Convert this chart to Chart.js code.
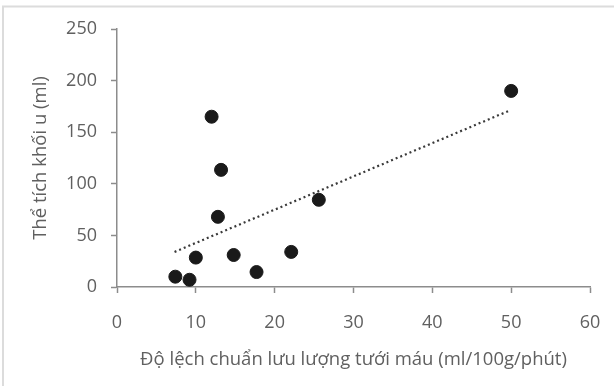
<!DOCTYPE html>
<html>
<head>
<meta charset="utf-8">
<script src="https://cdn.jsdelivr.net/npm/chart.js@4/dist/chart.umd.min.js"></script>
<style>
  html, body { margin: 0; padding: 0; background: #fff; }
  #wrap { position: relative; width: 614px; height: 386px; }
</style>
</head>
<body>
<div id="wrap"><canvas id="c" width="614" height="386"></canvas></div>
<script>
// Data
const xValues = [7.4, 9.2, 10.0, 12.0, 13.2, 12.8, 14.8, 17.7, 22.1, 25.6, 50.0];
const yValues = [10, 7, 28.5, 165, 113.5, 68, 31, 14.5, 34, 84.5, 190];
const trendX = [7.3, 49.8];
const trendY = [34, 171];
const xTitle = 'Độ lệch chuẩn lưu lượng tưới máu (ml/100g/phút)';
const yTitle = 'Thể tích khối u (ml)';

const points = xValues.map((x, i) => ({ x: x, y: yValues[i] }));
const trend = trendX.map((x, i) => ({ x: x, y: trendY[i] }));

const FONT = '"Open Sans", sans-serif';
const TXT = '#606060';
const AX = '#8c8c8c';

const frame = {
  id: 'frame',
  beforeDraw(chart) {
    const ctx = chart.ctx;
    ctx.save();
    ctx.fillStyle = '#fff';
    ctx.fillRect(0, 0, chart.width, chart.height);
    ctx.strokeStyle = '#dcdcdc';
    ctx.lineWidth = 2;
    ctx.beginPath();
    ctx.moveTo(3, chart.height);
    ctx.lineTo(3, 6.5);
    ctx.lineTo(chart.width, 6.5);
    ctx.stroke();
    ctx.restore();
  }
};

new Chart(document.getElementById('c'), {
  type: 'scatter',
  data: {
    datasets: [
      {
        data: points,
        backgroundColor: '#1a1a1a',
        borderColor: '#1a1a1a',
        pointRadius: 6.5,
        pointHoverRadius: 6.5,
        order: 1
      },
      {
        type: 'line',
        data: trend,
        borderColor: '#3a3a3a',
        borderWidth: 2.2,
        borderDash: [2, 3],
        pointRadius: 0,
        fill: false,
        order: 2
      }
    ]
  },
  options: {
    responsive: false,
    animation: false,
    devicePixelRatio: 1,
    layout: { padding: { left: 0, right: 24, top: 29, bottom: 0 } },
    plugins: { legend: { display: false }, tooltip: { enabled: false } },
    scales: {
      x: {
        type: 'linear',
        min: 0, max: 60,
        afterFit(scale) { scale.height = 99; scale.paddingRight = 0; scale.paddingLeft = 0; },
        ticks: { stepSize: 10, color: TXT, font: { family: FONT, size: 18 }, padding: 19 },
        grid: { drawOnChartArea: false, color: AX, tickLength: 6, tickWidth: 1.5 },
        border: { color: AX, width: 1.5 },
        title: { display: true, text: xTitle, color: TXT, font: { family: FONT, size: 18.5 }, padding: { top: 0, bottom: 15 } }
      },
      y: {
        min: 0, max: 250,
        afterFit(scale) { scale.width = 117; },
        ticks: { stepSize: 50, color: TXT, font: { family: FONT, size: 18 }, padding: 14 },
        grid: { drawOnChartArea: false, color: AX, tickLength: 6, tickWidth: 1.5 },
        border: { color: AX, width: 1.5 },
        title: { display: true, text: yTitle, color: TXT, font: { family: FONT, size: 18.5 }, padding: { top: 30, bottom: 0 } }
      }
    }
  },
  plugins: [frame]
});
</script>
</body>
</html>
